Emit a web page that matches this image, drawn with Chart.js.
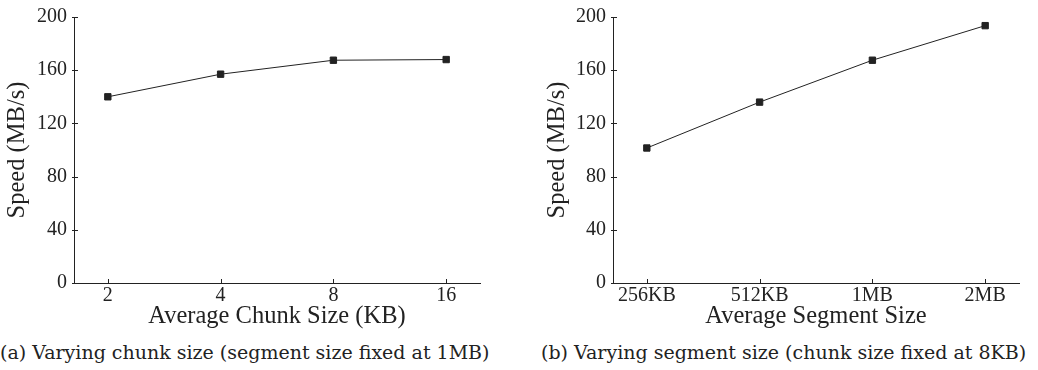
<!DOCTYPE html>
<html>
<head>
<meta charset="utf-8">
<script src="https://cdn.jsdelivr.net/npm/chart.js@4/dist/chart.umd.min.js"></script>
<style>
  body { margin: 0; background: #fff; width: 1038px; height: 370px; position: relative; overflow: hidden; }
  .box { position: absolute; top: 0; }
  .cap { position: absolute; top: 341px; font-family: "DejaVu Serif", serif; font-size: 19px; color: #222; white-space: nowrap; }
</style>
</head>
<body>
<div class="box" style="left:0;width:500px;height:335px"><canvas id="chunkChart" width="500" height="335"></canvas></div>
<div class="box" style="left:520px;width:518px;height:335px"><canvas id="segmentChart" width="518" height="335"></canvas></div>
<div class="cap" style="left:0">(a) Varying chunk size (segment size fixed at 1MB)</div>
<div class="cap" style="left:541px">(b) Varying segment size (chunk size fixed at 8KB)</div>
<script>
var yTicks = [0, 40, 80, 120, 160, 200];

var chunkLabels = ["2", "4", "8", "16"];
var chunkSpeed = [140, 157, 167.5, 168];

var segmentLabels = ["256KB", "512KB", "1MB", "2MB"];
var segmentSpeed = [101.5, 136, 167.5, 193.5];

var ink = "#222";
var serif = "'Liberation Serif', 'Times New Roman', serif";

// small tick marks pointing into the plot, like the original figure
var innerTicks = {
    id: 'innerTicks',
    afterDraw: function (chart) {
        var c = chart.ctx, a = chart.chartArea;
        var xs = chart.scales.x, ys = chart.scales.y;
        c.save();
        c.strokeStyle = ink;
        c.lineWidth = 1;
        c.beginPath();
        xs.ticks.forEach(function (t) {
            var px = Math.round(xs.getPixelForValue(t.value)) + 0.5;
            c.moveTo(px, a.bottom);
            c.lineTo(px, a.bottom - 4);
        });
        ys.ticks.forEach(function (t) {
            var py = Math.round(ys.getPixelForValue(t.value)) + 0.5;
            c.moveTo(a.left - 2, py);
            c.lineTo(a.left + 4, py);
        });
        c.stroke();
        c.restore();
    }
};

function makeChart(id, labels, values, xTitle, padLeft, yWidth, padRight) {
    var ctx = document.getElementById(id).getContext('2d');
    return new Chart(ctx, {
        type: 'line',
        data: {
            datasets: [{
                data: values.map(function (v, i) { return {x: i, y: v}; }),
                borderColor: ink,
                borderWidth: 1,
                backgroundColor: ink,
                pointStyle: 'rect',
                pointRadius: 4.5,
                pointBorderWidth: 1,
                pointBorderColor: ink,
                pointBackgroundColor: ink,
                fill: false,
                lineTension: 0
            }]
        },
        plugins: [innerTicks],
        options: {
            responsive: false,
            animation: false,
            layout: { padding: { left: padLeft, right: padRight, top: 16, bottom: 0 } },
            plugins: { legend: { display: false }, tooltip: { enabled: false } },
            scales: {
                x: {
                    type: 'linear',
                    min: -0.3,
                    max: labels.length - 0.7,
                    afterBuildTicks: function (s) {
                        s.ticks = labels.map(function (l, i) { return {value: i}; });
                    },
                    afterFit: function (s) { s.height = 52; },
                    grid: { display: false, drawTicks: false },
                    border: { display: true, color: ink, width: 1 },
                    ticks: {
                        color: ink,
                        padding: 3,
                        maxRotation: 0,
                        font: { family: serif, size: 20, lineHeight: 1 },
                        callback: function (v) { return labels[v]; }
                    },
                    title: {
                        display: true,
                        text: xTitle,
                        color: ink,
                        padding: { top: 0, bottom: 6 },
                        font: { family: serif, size: 24.5, lineHeight: 1 }
                    }
                },
                y: {
                    min: 0,
                    max: 200,
                    afterBuildTicks: function (s) {
                        s.ticks = yTicks.map(function (v) { return {value: v}; });
                    },
                    afterFit: function (s) { s.width = yWidth; },
                    grid: { display: false, drawTicks: false },
                    border: { display: true, color: ink, width: 1 },
                    ticks: {
                        color: ink,
                        padding: 7,
                        font: { family: serif, size: 20, lineHeight: 1 }
                    },
                    title: {
                        display: true,
                        text: 'Speed (MB/s)',
                        color: ink,
                        padding: { top: 5, bottom: 0 },
                        font: { family: serif, size: 24.5, lineHeight: 1 }
                    }
                }
            }
        }
    });
}

makeChart('chunkChart', chunkLabels, chunkSpeed, 'Average Chunk Size (KB)', 0, 74, 20);
makeChart('segmentChart', segmentLabels, segmentSpeed, 'Average Segment Size', 20, 73, 19);
</script>
</body>
</html>
